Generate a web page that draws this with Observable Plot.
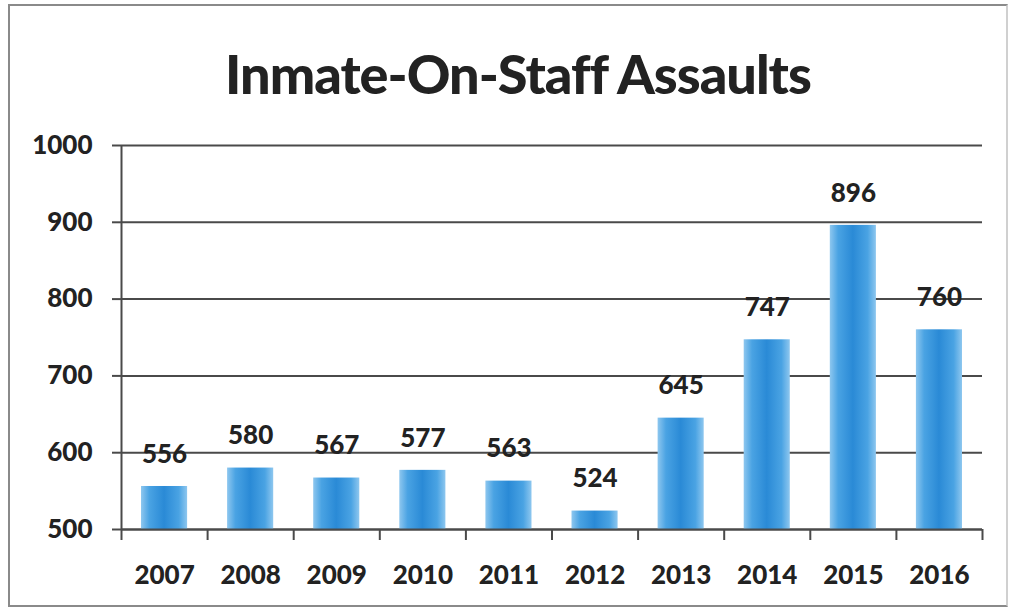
<!DOCTYPE html>
<html>
<head>
<meta charset="utf-8">
<script src="https://cdn.jsdelivr.net/npm/d3@7"></script>
<script src="https://cdn.jsdelivr.net/npm/@observablehq/plot@0.6"></script>
<style>
  html, body { margin: 0; padding: 0; background: #fff; }
  #wrap { position: relative; width: 1010px; height: 608px; overflow: hidden; }
  #frame { position: absolute; left: 8px; top: 4px; width: 1000px; height: 603px; border: 2px solid #8a8a8a; border-right-color: #d0d0d0; box-sizing: border-box; }
  #title { position: absolute; left: 13px; top: 0; width: 1010px; height: 120px; text-align: center;
           font-family: Lato, sans-serif; font-weight: 900; font-size: 54px; color: #222; line-height: 148px; letter-spacing: -1px; }
  #chart { position: absolute; left: 0; top: 120px; }
</style>
</head>
<body>
<div id="wrap">
  <div id="frame"></div>
  <div id="title">Inmate-On-Staff Assaults</div>
  <div id="chart"></div>
</div>
<script>
const years = ["2007", "2008", "2009", "2010", "2011", "2012", "2013", "2014", "2015", "2016"];
const assaults = [556, 580, 567, 577, 563, 524, 645, 747, 896, 760];
const yTicks = [500, 600, 700, 800, 900, 1000];
const boundaries = d3.range(years.length + 1);

const data = years.map((year, i) => ({year, i, value: assaults[i]}));

const ink = "#222";
const line = "#4a4a4a";

const chart = Plot.plot({
  width: 1010,
  height: 488,
  marginTop: 25,
  marginBottom: 79,
  marginLeft: 121,
  marginRight: 28,
  x: {domain: [0, years.length], axis: null},
  y: {domain: [500, 1000], axis: null},
  style: {fontFamily: "Lato, sans-serif", fontWeight: "900", fontSize: "26px", color: ink, background: "transparent"},
  marks: [
    Plot.gridY(yTicks, {stroke: line, strokeOpacity: 1, strokeWidth: 2}),
    Plot.rectY(data, {x1: "i", x2: d => d.i + 1, y1: 500, y2: "value", insetLeft: 20, insetRight: 20, fill: "url(#barGrad)"}),
    Plot.axisY(yTicks, {label: null, tickFormat: d => String(d), tickSize: 9, tickPadding: 20, stroke: line, strokeWidth: 2, fill: ink, fontSize: 26, fontWeight: "900"}),
    Plot.axisX(boundaries, {label: null, tickSize: 11, tickFormat: () => "", stroke: line, strokeWidth: 2}),
    Plot.ruleY([500], {stroke: line, strokeWidth: 2}),
    Plot.ruleX([0], {stroke: line, strokeWidth: 2}),
    Plot.text(data, {x: d => d.i + 0.5, y: 500, text: "year", dy: 46, fill: ink, fontSize: 26, fontWeight: "900"}),
    Plot.text(data, {x: d => d.i + 0.5, y: "value", text: d => String(d.value), dy: -32, fill: ink, fontSize: 26, fontWeight: "900"})
  ]
});

// horizontal gradient for the bars
const ns = "http://www.w3.org/2000/svg";
const defs = document.createElementNS(ns, "defs");
const grad = document.createElementNS(ns, "linearGradient");
grad.setAttribute("id", "barGrad");
grad.setAttribute("x1", "0"); grad.setAttribute("x2", "1");
grad.setAttribute("y1", "0"); grad.setAttribute("y2", "0");
[["0%", "#8ec7ef"], ["18%", "#4aa3e3"], ["50%", "#2a8ad6"], ["82%", "#4aa3e3"], ["100%", "#8ec7ef"]].forEach(([o, c]) => {
  const s = document.createElementNS(ns, "stop");
  s.setAttribute("offset", o); s.setAttribute("stop-color", c);
  grad.appendChild(s);
});
defs.appendChild(grad);
chart.insertBefore(defs, chart.firstChild);

document.getElementById("chart").appendChild(chart);
</script>
</body>
</html>
